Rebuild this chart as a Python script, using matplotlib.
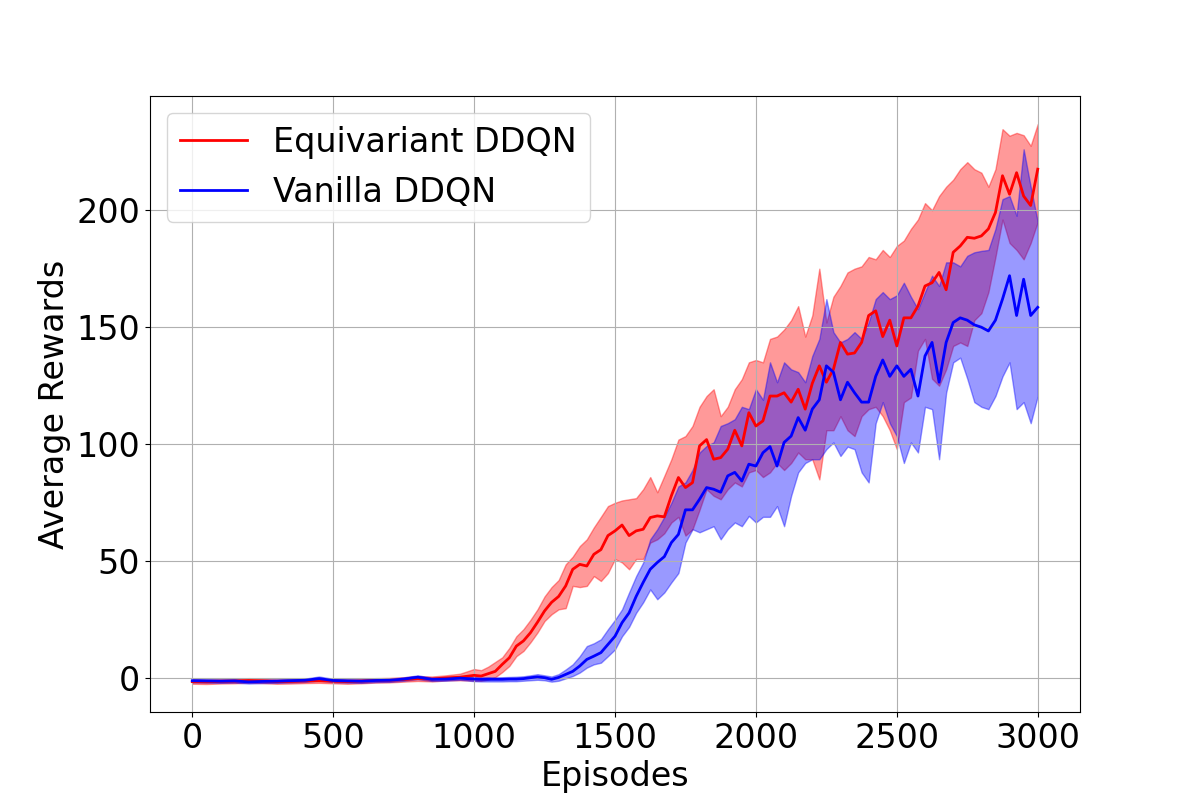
import matplotlib
matplotlib.use("Agg")
import matplotlib.pyplot as plt
import numpy as np

episodes = [0, 50, 100, 150, 200, 250, 300, 350, 400, 450, 500, 550, 600, 650, 700, 750, 800, 850, 900, 950,
            1000, 1025, 1050, 1075, 1100, 1125, 1150, 1175, 1200, 1225, 1250, 1275, 1300, 1325, 1350, 1375,
            1400, 1425, 1450, 1475, 1500, 1525, 1550, 1575, 1600, 1625, 1650, 1675, 1700, 1725, 1750, 1775,
            1800, 1825, 1850, 1875, 1900, 1925, 1950, 1975, 2000, 2025, 2050, 2075, 2100, 2125, 2150, 2175,
            2200, 2225, 2250, 2275, 2300, 2325, 2350, 2375, 2400, 2425, 2450, 2475, 2500, 2525, 2550, 2575,
            2600, 2625, 2650, 2675, 2700, 2725, 2750, 2775, 2800, 2825, 2850, 2875, 2900, 2925, 2950, 2975, 3000]

equi_mean = [-1.4, -1.5, -1.3, -1.2, -0.9, -1.1, -1.4, -1.3, -1.1, -1.0, -1.2, -1.4, -1.2, -0.9, -0.8, -0.5, -0.1, -0.3, 0.2, 0.5,
             1.3, 1.0, 2.0, 3.0, 6.0, 8.8, 13.8, 16.0, 19.5, 24.0, 28.8, 32.5, 35.0, 39.5, 46.6, 48.7,
             48.0, 53.0, 55.0, 61.0, 63.0, 65.5, 61.0, 63.0, 63.7, 68.7, 69.4, 69.0, 78.0, 85.8, 81.5, 83.6,
             99.3, 102.0, 93.6, 94.3, 97.9, 106.0, 99.3, 113.5, 107.8, 110.0, 120.6, 120.6, 122.0, 118.0, 123.5, 115.0,
             126.0, 133.5, 126.5, 132.0, 143.5, 138.5, 139.0, 143.5, 155.0, 157.0, 146.0, 153.0, 142.0, 154.0, 154.0, 159.0,
             167.6, 169.0, 173.4, 166.0, 182.0, 184.7, 188.4, 188.0, 189.0, 192.0, 199.0, 214.7, 206.8, 216.0, 206.0, 202.0, 217.5]

equi_upper = [-0.4, -0.5, -0.3, -0.2, 0.1, -0.1, -0.4, -0.3, -0.1, 0.0, -0.2, -0.4, -0.2, 0.1, 0.2, 0.5, 1.0, 0.8, 1.3, 2.0,
              4.0, 3.5, 5.0, 7.0, 9.0, 13.0, 18.0, 21.0, 25.0, 29.5, 35.0, 39.0, 42.0, 48.7, 52.0, 56.5,
              59.4, 64.5, 69.0, 73.6, 75.0, 76.0, 76.5, 77.0, 80.8, 86.0, 79.5, 86.5, 93.6, 102.0, 103.5, 107.8,
              116.0, 120.6, 123.5, 112.0, 116.0, 123.5, 127.8, 135.0, 136.0, 135.0, 145.0, 146.0, 149.0, 153.0, 159.0, 146.0,
              155.0, 175.0, 152.0, 163.0, 167.6, 173.4, 175.0, 176.0, 180.0, 179.0, 183.0, 180.0, 184.7, 187.0, 192.0, 196.0,
              203.0, 200.0, 206.0, 210.0, 213.0, 217.5, 220.5, 217.5, 216.0, 210.0, 217.5, 234.6, 231.8, 233.0, 232.0, 227.5, 236.8]

equi_lower = [-2.3, -2.4, -2.2, -2.1, -1.8, -2.0, -2.3, -2.2, -2.0, -1.9, -2.1, -2.3, -2.1, -1.8, -1.7, -1.4, -1.1, -1.3, -0.9, -0.8,
              -1.0, -1.0, -0.5, 0.5, 2.7, 5.3, 9.5, 11.7, 15.4, 19.6, 24.5, 27.4, 29.5, 30.0, 39.5, 39.0,
              39.5, 43.7, 41.6, 45.0, 51.0, 49.5, 46.6, 51.0, 51.0, 58.0, 59.4, 62.0, 66.6, 69.0, 61.0, 63.7,
              72.0, 80.8, 78.0, 76.5, 80.8, 83.7, 82.0, 88.0, 89.0, 86.0, 88.0, 92.0, 89.0, 92.0, 96.5, 93.6,
              93.6, 85.0, 106.0, 106.0, 112.0, 106.0, 103.5, 112.0, 115.0, 116.0, 112.0, 106.0, 97.9, 118.0, 120.0, 140.0,
              145.0, 128.0, 125.0, 132.0, 142.0, 143.5, 142.0, 153.0, 156.0, 165.0, 180.0, 196.0, 186.0, 183.0, 179.0, 186.0, 195.0]

van_mean = [-1.0, -1.1, -1.2, -1.1, -1.5, -1.3, -1.2, -1.0, -0.8, -0.1, -0.9, -1.1, -1.2, -0.9, -0.8, -0.3, 0.5, -0.4, -0.3, 0.1,
            -0.3, -0.4, -0.4, -0.4, -0.4, -0.3, -0.3, -0.1, 0.3, 0.6, 0.3, -0.4, 0.4, 1.7, 3.0, 5.3,
            8.1, 9.5, 11.0, 14.5, 18.0, 23.8, 28.0, 35.0, 41.0, 46.6, 49.5, 52.0, 58.0, 61.5, 72.0, 72.0,
            76.5, 81.5, 80.8, 79.5, 86.5, 88.0, 84.3, 91.5, 90.7, 96.4, 99.0, 90.7, 100.8, 103.5, 111.4, 106.0,
            115.0, 119.0, 133.5, 130.8, 119.0, 126.5, 122.0, 118.0, 118.0, 129.0, 136.0, 129.0, 133.5, 129.0, 132.0, 120.6,
            137.7, 143.5, 126.5, 143.5, 152.0, 154.0, 153.0, 151.0, 150.0, 148.4, 153.0, 162.0, 172.0, 155.0, 170.5, 155.0, 158.5]

van_upper = [-0.3, -0.4, -0.5, -0.4, -0.8, -0.6, -0.5, -0.3, -0.1, 0.8, -0.2, -0.4, -0.5, -0.2, -0.1, 0.4, 1.3, 0.3, 0.4, 0.8,
             0.5, 0.4, 0.5, 0.4, 0.5, 0.6, 0.7, 0.9, 1.3, 1.8, 1.3, 0.8, 1.8, 3.8, 6.0, 9.5,
             13.8, 15.0, 16.7, 21.0, 25.0, 29.5, 36.7, 43.7, 49.5, 59.4, 63.7, 69.0, 75.0, 82.0, 83.7, 89.0,
             96.5, 99.3, 100.8, 107.8, 109.0, 110.7, 116.0, 115.0, 123.5, 119.0, 135.0, 126.5, 135.0, 132.0, 130.8, 126.5,
             137.7, 145.0, 162.0, 147.9, 143.5, 145.0, 147.9, 145.0, 152.0, 162.0, 165.0, 162.0, 163.6, 169.0, 163.0, 157.7,
             165.0, 172.0, 167.6, 177.7, 177.7, 176.0, 180.5, 182.0, 182.6, 183.0, 192.0, 204.7, 206.0, 197.6, 226.0, 210.0, 195.0]

van_lower = [-1.7, -1.8, -1.9, -1.8, -2.2, -2.0, -1.9, -1.7, -1.5, -0.9, -1.6, -1.8, -1.9, -1.6, -1.5, -1.0, -0.3, -1.1, -1.0, -0.6,
             -1.2, -1.3, -1.3, -1.3, -1.3, -1.2, -1.2, -1.0, -0.8, -0.6, -0.8, -1.4, -1.0, 0.0, 1.0, 2.5,
             4.6, 6.0, 6.7, 9.5, 12.4, 18.0, 22.0, 28.0, 32.5, 38.0, 33.8, 36.7, 41.0, 45.0, 58.0, 63.7,
             62.4, 63.7, 65.0, 59.4, 63.7, 66.6, 65.0, 69.4, 66.6, 69.0, 69.0, 73.6, 65.0, 78.0, 88.0, 92.0,
             93.6, 93.6, 97.9, 100.8, 95.0, 99.0, 97.9, 88.0, 83.7, 109.0, 118.0, 109.0, 103.5, 92.0, 100.8, 96.5,
             116.0, 115.0, 93.6, 122.0, 135.0, 137.0, 128.0, 118.0, 116.0, 115.0, 120.6, 129.0, 135.0, 115.0, 118.0, 109.0, 120.6]

plt.rcParams['font.family'] = ['DejaVu Sans']
fig, ax = plt.subplots(figsize=(12, 8), dpi=100)

ax.fill_between(episodes, equi_lower, equi_upper, color='r', alpha=0.4, linewidth=1)
ax.fill_between(episodes, van_lower, van_upper, color='b', alpha=0.4, linewidth=1)
ax.plot(episodes, equi_mean, color='r', linewidth=2, label='Equivariant DDQN')
ax.plot(episodes, van_mean, color='b', linewidth=2, label='Vanilla DDQN')

ax.grid(True)
ax.set_xlabel('Episodes', fontsize=24)
ax.set_ylabel('Average Rewards', fontsize=24)
ax.tick_params(axis='both', labelsize=24)
ax.set_xticks([0, 500, 1000, 1500, 2000, 2500, 3000])
ax.set_yticks([0, 50, 100, 150, 200])
ax.legend(loc='upper left', fontsize=24)

fig.savefig('out.png', dpi=100)
